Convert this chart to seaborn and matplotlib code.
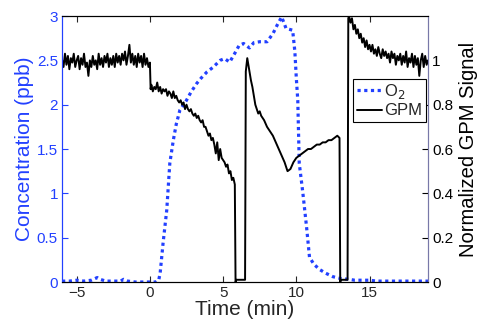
import numpy as np
import pandas as pd
import matplotlib
matplotlib.use('Agg')
import matplotlib.pyplot as plt
from matplotlib.ticker import FuncFormatter
import seaborn as sns

# O2 concentration (ppb), left axis
o2_time = [-6.0, -5.5, -5.0, -4.5, -4.0, -3.6, -3.4, -3.0, -2.5, -2.0, -1.8, -1.5, -1.0, -0.5,
           0.0, 0.4, 0.6, 0.7, 0.9, 1.15, 1.36, 1.6, 1.8, 2.05, 2.3, 2.5, 2.8, 3.2, 3.5, 3.9,
           4.3, 4.8, 5.1, 5.45, 5.8, 6.1, 6.4, 6.8, 7.1, 7.5, 8.0, 8.4, 8.7, 9.0, 9.3, 9.75,
           9.9, 10.0, 10.1, 10.2, 10.45, 10.7, 10.9, 11.2, 11.6, 12.0, 12.5, 13.0, 13.6, 14.0,
           14.5, 15.0, 15.5, 16.0, 16.5, 17.0, 17.5, 18.0, 18.5, 19.0]
o2_ppb = [0.01, 0.01, 0.02, 0.01, 0.02, 0.05, 0.03, 0.01, 0.01, 0.01, 0.03, 0.01, 0.0, 0.0,
          0.0, 0.0, 0.02, 0.1, 0.44, 0.81, 1.34, 1.6, 1.78, 1.94, 2.0, 2.05, 2.14, 2.24, 2.3, 2.37,
          2.42, 2.5, 2.52, 2.48, 2.58, 2.67, 2.69, 2.64, 2.7, 2.71, 2.71, 2.8, 2.9, 2.99, 2.86, 2.84,
          2.6, 2.3, 2.05, 1.34, 1.0, 0.62, 0.28, 0.2, 0.14, 0.1, 0.06, 0.04, 0.03, 0.02,
          0.02, 0.02, 0.01, 0.01, 0.01, 0.01, 0.01, 0.01, 0.01, 0.01]

# normalized GPM signal, right axis (baseline, first decay, off, recovery, off, rebound)
gpm_time = [-6.0, -5.9, -5.8, -5.7, -5.6, -5.5, -5.4, -5.3, -5.2, -5.1,
            -5.0, -4.9, -4.8, -4.7, -4.6, -4.5, -4.4, -4.3, -4.2, -4.1,
            -4.0, -3.9, -3.8, -3.7, -3.6, -3.5, -3.4, -3.3, -3.2, -3.1,
            -3.0, -2.9, -2.8, -2.7, -2.6, -2.5, -2.4, -2.3, -2.2, -2.1,
            -2.0, -1.9, -1.8, -1.7, -1.6, -1.5, -1.4, -1.3, -1.2, -1.1,
            -1.0, -0.9, -0.8, -0.7, -0.6, -0.5, -0.4, -0.3, -0.2, -0.1, 0.0,
            0.05, 0.1, 0.2, 0.3, 0.4, 0.5, 0.6, 0.7, 0.8, 0.9, 1.0,
            1.1, 1.2, 1.3, 1.4, 1.5, 1.6, 1.7, 1.8, 1.9, 2.0,
            2.1, 2.2, 2.3, 2.4, 2.5, 2.6, 2.7, 2.8, 2.9, 3.0,
            3.1, 3.2, 3.3, 3.4, 3.5, 3.6, 3.7, 3.8, 3.9, 4.0,
            4.1, 4.2, 4.3, 4.4, 4.5, 4.6, 4.7, 4.8, 4.9, 5.0,
            5.1, 5.2, 5.3, 5.4, 5.5, 5.6, 5.7, 5.8,
            5.85, 5.9, 6.5,
            6.55, 6.65, 6.8, 6.9, 7.0, 7.1, 7.2, 7.3, 7.4, 7.5, 7.6, 7.8, 8.0, 8.2, 8.4, 8.6,
            8.8, 9.0, 9.2, 9.4, 9.6, 9.8, 10.0, 10.2, 10.4, 10.6, 10.8, 11.0, 11.2, 11.4, 11.6,
            11.8, 12.0, 12.2, 12.4, 12.6, 12.8, 12.95,
            13.0, 13.05, 13.5,
            13.55, 13.6, 13.7, 13.8, 13.9, 14.0,
            14.1, 14.2, 14.3, 14.4, 14.5, 14.6, 14.7, 14.8, 14.9, 15.0,
            15.1, 15.2, 15.3, 15.4, 15.5, 15.6, 15.7, 15.8, 15.9, 16.0,
            16.1, 16.2, 16.3, 16.4, 16.5, 16.6, 16.7, 16.8, 16.9, 17.0,
            17.1, 17.2, 17.3, 17.4, 17.5, 17.6, 17.7, 17.8, 17.9, 18.0,
            18.1, 18.2, 18.3, 18.4, 18.5, 18.6, 18.7, 18.8, 18.9, 19.0]
gpm_signal = [1.00, 0.97, 1.03, 0.98, 1.02, 0.96, 1.01, 0.99, 1.03, 0.97,
              1.00, 1.02, 0.96, 1.01, 0.98, 1.03, 0.97, 0.99, 0.93, 1.00,
              0.97, 1.02, 0.98, 1.00, 0.96, 1.03, 0.98, 1.01, 0.97, 1.02,
              0.99, 1.03, 0.97, 1.01, 0.98, 1.02, 0.97, 1.03, 0.99, 1.02,
              0.98, 1.03, 1.00, 1.04, 0.98, 1.02, 1.07, 0.99, 1.03, 0.98,
              1.02, 0.97, 1.03, 0.99, 1.02, 0.97, 1.03, 0.98, 1.01, 0.97, 0.99,
              0.87, 0.89, 0.86, 0.88, 0.87, 0.90, 0.86, 0.88, 0.85, 0.87, 0.86,
              0.87, 0.84, 0.86, 0.85, 0.83, 0.86, 0.83, 0.84, 0.82, 0.81,
              0.82, 0.80, 0.81, 0.78, 0.80, 0.78, 0.77, 0.78, 0.76, 0.75,
              0.76, 0.74, 0.75, 0.73, 0.72, 0.73, 0.70, 0.70, 0.68, 0.66,
              0.67, 0.64, 0.65, 0.62, 0.58, 0.63, 0.55, 0.60, 0.56, 0.55,
              0.54, 0.52, 0.53, 0.49, 0.50, 0.46, 0.47, 0.44,
              0.0, 0.01, 0.01,
              0.95, 1.01, 0.95, 0.91, 0.88, 0.84, 0.80, 0.78, 0.76, 0.77, 0.75, 0.73, 0.70, 0.68,
              0.66, 0.63, 0.60, 0.57, 0.54, 0.50, 0.51, 0.54, 0.56, 0.57, 0.58, 0.59, 0.60, 0.60,
              0.61, 0.62, 0.62, 0.63, 0.63, 0.64, 0.64, 0.65, 0.66, 0.65,
              0.0, 0.01, 0.01,
              1.19, 1.20, 1.17, 1.19, 1.14, 1.16,
              1.12, 1.14, 1.10, 1.12, 1.08, 1.10, 1.06, 1.09, 1.05, 1.07,
              1.04, 1.07, 1.03, 1.05, 1.02, 1.06, 1.03, 1.01, 1.05, 1.02,
              1.04, 1.01, 1.03, 0.99, 1.04, 1.01, 1.03, 0.98, 1.02, 1.00,
              1.03, 0.98, 1.02, 0.99, 1.04, 0.97, 1.01, 0.99, 1.03, 0.97,
              1.02, 0.98, 1.01, 0.93, 1.00, 1.03, 0.97, 1.02, 0.98, 1.00]

df_o2 = pd.DataFrame({'t': o2_time, 'v': o2_ppb})
df_gpm = pd.DataFrame({'t': gpm_time, 'v': gpm_signal})

blue = '#2240ff'

sns.set_style('ticks')
plt.rcParams['font.family'] = ['Liberation Sans', 'DejaVu Sans']

fig = plt.figure(figsize=(4.81, 3.27), dpi=100)
ax = fig.add_axes([0.129, 0.1376, 0.761, 0.8134])
ax2 = ax.twinx()

sns.lineplot(data=df_o2, x='t', y='v', ax=ax, color=blue, lw=2.3,
             linestyle=(0, (1.0, 1.1)), label='O$_2$', legend=False)
sns.lineplot(data=df_gpm, x='t', y='v', ax=ax2, color='black', lw=1.4,
             label='GPM', legend=False)

ax.set_xlim(-6, 19)
ax.set_ylim(0, 3)
ax2.set_ylim(0, 1.2)
ax.set_xticks([-5, 0, 5, 10, 15])
ax.set_yticks([0, 0.5, 1, 1.5, 2, 2.5, 3])
ax2.set_yticks([0, 0.2, 0.4, 0.6, 0.8, 1])
fmt = FuncFormatter(lambda v, p: ('%g' % v).replace('-', '\u2212'))
ax.xaxis.set_major_formatter(fmt)
ax.yaxis.set_major_formatter(fmt)
ax2.yaxis.set_major_formatter(fmt)

ax.set_xlabel('Time (min)', fontsize=15, labelpad=0)
ax.set_ylabel('Concentration (ppb)', fontsize=15, color=blue, labelpad=2)
ax2.set_ylabel('Normalized GPM Signal', fontsize=14.5, color='black', labelpad=4)

ax.tick_params(axis='x', direction='in', top=True, length=4, labelsize=11, pad=3)
ax.tick_params(axis='y', direction='in', colors=blue, length=4, labelsize=11, pad=3)
ax2.tick_params(axis='y', direction='in', colors='black', length=4, labelsize=11, pad=3)

for a in (ax, ax2):
    for s in a.spines.values():
        s.set_linewidth(0.8)
    a.spines['top'].set_color('black')
    a.spines['bottom'].set_color('black')
ax.spines['left'].set_color(blue)
ax2.spines['left'].set_color(blue)
ax.spines['right'].set_color('#7878a8')
ax2.spines['right'].set_color('#7878a8')

h1, l1 = ax.get_legend_handles_labels()
h2, l2 = ax2.get_legend_handles_labels()
leg = ax2.legend(h1 + h2, l1 + l2, loc='upper right', bbox_to_anchor=(0.993, 0.765),
                 fontsize=12, frameon=True, fancybox=False, framealpha=1,
                 edgecolor='black', handlelength=1.5, handletextpad=0.15,
                 borderpad=0.2, labelspacing=0.15, borderaxespad=0)
leg.get_frame().set_linewidth(0.8)

fig.savefig('out.png', dpi=100)
